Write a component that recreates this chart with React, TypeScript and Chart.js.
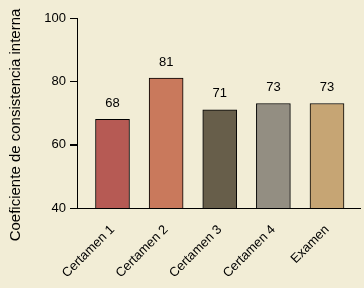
import React, { useEffect, useRef } from "react";
import { Chart, registerables } from "chart.js";

Chart.register(...registerables);

const categories = ["Certamen 1", "Certamen 2", "Certamen 3", "Certamen 4", "Examen"];
const values = [68, 81, 71, 73, 73];
const barColors = ["#B65A54", "#C9795C", "#675E4A", "#938E82", "#C6A574"];
const yTitle = "Coeficiente de consistencia interna";
const BG = "#F2EDD6";
const FONT = "'Liberation Sans', Arial, Helvetica, sans-serif";

export default function App() {
  const ref = useRef<HTMLCanvasElement | null>(null);

  useEffect(() => {
    document.body.style.margin = "0";
    document.body.style.background = BG;
    const canvas = ref.current;
    if (!canvas) return;

    const valueLabels = {
      id: "valueLabels",
      afterDatasetsDraw(chart: any) {
        const ctx = chart.ctx;
        const meta = chart.getDatasetMeta(0);
        ctx.save();
        ctx.fillStyle = "#000";
        ctx.font = `13px ${FONT}`;
        ctx.textAlign = "center";
        ctx.textBaseline = "middle";
        meta.data.forEach((el: any, i: number) => {
          ctx.fillText(String(values[i]), el.x, el.y - 16);
        });
        ctx.restore();
      },
    };

    const axisMarks = {
      id: "axisMarks",
      afterDraw(chart: any) {
        const ctx = chart.ctx;
        const y = chart.scales.y;
        const area = chart.chartArea;
        const x0 = Math.round(area.left);
        ctx.save();
        ctx.fillStyle = "#000000";
        // y axis line and tick marks
        const top = Math.round(y.getPixelForValue(100));
        const bot = Math.round(y.getPixelForValue(40));
        ctx.fillRect(x0, top, 1, bot - top + 1);
        [40, 60, 80, 100].forEach((v) => {
          const py = Math.round(y.getPixelForValue(v));
          ctx.fillRect(x0 - 7, py, 8, 1);
        });
        // x axis line
        ctx.fillRect(x0, bot, Math.round(area.right) - x0, 1);
        ctx.restore();
      },
    };

    const yTitlePlugin = {
      id: "yTitlePlugin",
      afterDraw(chart: any) {
        const ctx = chart.ctx;
        ctx.save();
        ctx.translate(16, chart.chartArea.bottom - 83);
        ctx.rotate(-Math.PI / 2);
        ctx.fillStyle = "#000";
        ctx.font = `15px ${FONT}`;
        ctx.textAlign = "center";
        ctx.textBaseline = "middle";
        ctx.fillText(yTitle, 0, 0);
        ctx.restore();
      },
    };

    const chart = new Chart(canvas, {
      type: "bar",
      data: {
        datasets: [
          {
            data: values.map((v, i) => ({ x: i + 1, y: v })),
            backgroundColor: barColors,
            borderColor: "#000",
            borderWidth: 1,
            borderSkipped: false,
            barThickness: 34,
          },
        ],
      },
      options: {
        responsive: false,
        animation: false,
        devicePixelRatio: 1,
        layout: { padding: { top: 18, right: 3, left: 0, bottom: 0 } },
        plugins: { legend: { display: false }, tooltip: { enabled: false } },
        scales: {
          x: {
            type: "linear",
            offset: false,
            min: 0.338,
            max: 5.634,
            afterBuildTicks: (s: any) => {
              s.ticks = categories.map((_, i) => ({ value: i + 1 }));
            },
            afterFit: (s: any) => {
              s.height = 80;
            },
            ticks: {
              callback: (v: any) => categories[Number(v) - 1] ?? "",
              minRotation: 45,
              maxRotation: 45,
              autoSkip: false,
              color: "#000",
              font: { family: FONT, size: 13 },
              padding: 6,
            },
            grid: { display: false, offset: false },
            border: { display: false },
          },
          y: {
            min: 40,
            max: 100,
            afterFit: (s: any) => {
              s.width = 77;
            },
            ticks: {
              stepSize: 20,
              color: "#000",
              font: { family: FONT, size: 13 },
              padding: 4,
            },
            grid: {
              display: true,
              drawOnChartArea: false,
              drawTicks: true,
              tickLength: 7,
              color: "#000000",
              tickColor: "#000000",
              tickWidth: 1,
              lineWidth: 1,
            },
            border: { display: false },
          },
        },
      },
      plugins: [valueLabels, axisMarks, yTitlePlugin],
    });

    return () => chart.destroy();
  }, []);

  return (
    <div style={{ width: 364, height: 288, background: BG }}>
      <canvas ref={ref} width={364} height={288} style={{ display: "block" }} />
    </div>
  );
}
